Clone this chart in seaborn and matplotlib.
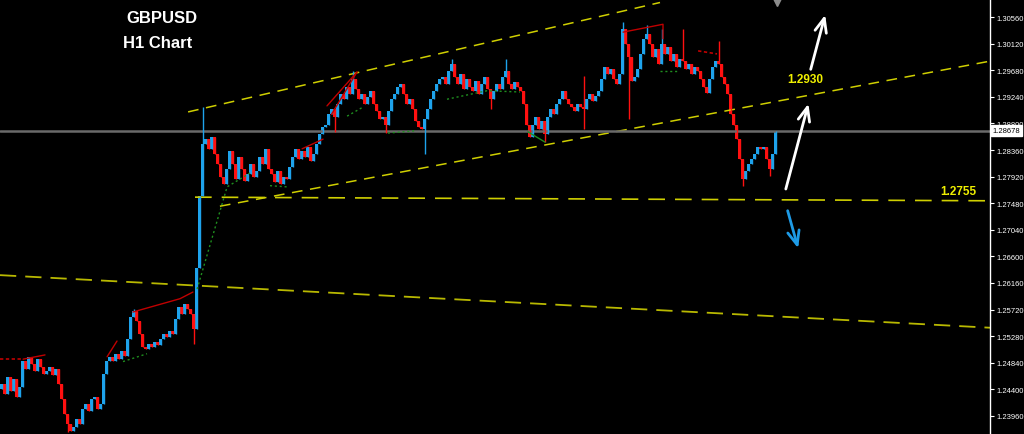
import matplotlib
matplotlib.use("Agg")
import matplotlib.pyplot as plt
import matplotlib.transforms as mtransforms
import seaborn as sns
import pandas as pd

# GBPUSD H1 closes, one per bar (open = previous close)
first_open = 1.2440
closes = [
    1.2449, 1.2432, 1.2461, 1.2437, 1.2457, 1.2427, 1.2444,
    1.2487, 1.2474, 1.2494, 1.2482, 1.2471, 1.2490, 1.2477, 1.2466,
    1.2471, 1.2477, 1.2464, 1.2474,
    1.2449, 1.2424, 1.2399, 1.2383, 1.2371,
    1.2378, 1.2391, 1.2383, 1.2408, 1.2416, 1.2404, 1.2424, 1.2427,
    1.2408, 1.2416,
    1.2466, 1.2487,
    1.2494, 1.2487, 1.2499, 1.2490, 1.2504, 1.2496,
    1.2524, 1.2560, 1.2570,
    1.2553, 1.2532, 1.2510,
    1.2507, 1.2515, 1.2510, 1.2519, 1.2514,
    1.2524, 1.2532, 1.2527, 1.2537, 1.2532,
    1.2557, 1.2576, 1.2565, 1.2581,
    1.2573, 1.2565,
    1.2540, 1.2640, 1.2760, 1.2846,
    1.2854, 1.2838, 1.2858, 1.2829,
    1.2813, 1.2791, 1.2780,
    1.2805, 1.2834, 1.2813, 1.2788, 1.2825,
    1.2805, 1.2785, 1.2796, 1.2813, 1.2791,
    1.2801, 1.2825, 1.2813, 1.2838, 1.2805,
    1.2796, 1.2783, 1.2801, 1.2780, 1.2791,
    1.2788, 1.2808, 1.2825, 1.2838, 1.2821,
    1.2834, 1.2825, 1.2841, 1.2818, 1.2830,
    1.2846, 1.2863, 1.2874,
    1.2878, 1.2896, 1.2904,
    1.2891, 1.2912, 1.2929, 1.2920, 1.2940, 1.2929, 1.2953,
    1.2937, 1.2920, 1.2929, 1.2912, 1.2924, 1.2934, 1.2912,
    1.2901, 1.2887, 1.2891,
    1.2878, 1.2901, 1.2920,
    1.2929, 1.2940, 1.2945,
    1.2929, 1.2912, 1.2920, 1.2904, 1.2884,
    1.2874, 1.2871,
    1.2887, 1.2904, 1.2920, 1.2934, 1.2945, 1.2953,
    1.2957, 1.2945, 1.2967, 1.2978, 1.2957,
    1.2945, 1.2962, 1.2937, 1.2953, 1.2940,
    1.2934, 1.2950, 1.2929, 1.2945, 1.2957, 1.2937, 1.2920,
    1.2934, 1.2945, 1.2937, 1.2957, 1.2967,
    1.2945, 1.2937, 1.2949, 1.2940, 1.2934,
    1.2912, 1.2878, 1.2857,
    1.2878, 1.2891, 1.2871, 1.2884, 1.2862,
    1.2891, 1.2904, 1.2896, 1.2912, 1.2920,
    1.2934, 1.2920, 1.2912,
    1.2907, 1.2901, 1.2912,
    1.2907, 1.2904,
    1.2920, 1.2929, 1.2917, 1.2925, 1.2934,
    1.2953, 1.2973, 1.2962,
    1.2970, 1.2953, 1.2945,
    1.2962, 1.3036,
    1.3011, 1.2990,
    1.2950, 1.2957, 1.2970,
    1.2995, 1.3020, 1.3028,
    1.3011, 1.2990, 1.3003, 1.2978,
    1.3011,
    1.2995, 1.3006, 1.2983, 1.2995, 1.2973,
    1.2987, 1.2983,
    1.2970, 1.2978, 1.2962, 1.2973, 1.2967,
    1.2953, 1.2940, 1.2931,
    1.2953, 1.2973, 1.2983,
    1.2978, 1.2957, 1.2945,
    1.2929, 1.2896, 1.2878,
    1.2854, 1.2821, 1.2788,
    1.2801, 1.2813, 1.2821,
    1.2830, 1.2841, 1.2838,
    1.2841, 1.2821, 1.2805,
    1.2830, 1.28678,
]

# long wicks (bar index -> price)
hi_idx = [44, 67, 117, 150, 168, 194, 207, 215, 220, 227, 239]
hi_val = [1.2573, 1.2907, 1.2966, 1.2987, 1.2987, 1.2958, 1.3048, 1.3042, 1.3036, 1.3036, 1.3016]
lo_idx = [22, 64, 111, 128, 141, 163, 181, 194, 209, 247, 256]
lo_val = [1.2370, 1.2515, 1.2866, 1.2864, 1.2829, 1.2904, 1.2849, 1.2871, 1.2887, 1.2777, 1.2793]

yticks = [1.23960, 1.24400, 1.24840, 1.25280, 1.25720, 1.26160, 1.26600, 1.27040,
          1.27480, 1.27920, 1.28360, 1.28800, 1.29240, 1.29680, 1.30120, 1.30560]
last_price = 1.28678

# drawn trend lines: (bars, prices)
upper_channel = ([62.2, 219.5], [1.2899, 1.3080])
lower_channel = ([72.8, 329.5], [1.2743, 1.2983])
support_line = ([64.5, 329.5], [1.2758, 1.2752])
long_trend = ([-0.5, 329.5], [1.2629, 1.2542])

# zigzag / indicator segments
red_lines = [
    ([7.2, 14.5], [1.2490, 1.2497]),
    ([35.2, 38.5], [1.2494, 1.2520]),
    ([43.8, 59.5, 63.8], [1.2568, 1.2590, 1.2601]),
    ([100.2, 107.2], [1.2838, 1.2854]),
    ([108.5, 118.5], [1.2909, 1.2965]),
    ([110.0, 118.5], [1.2895, 1.2965]),
    ([207.2, 220.5, 220.5], [1.3031, 1.3044, 1.3020]),
]
red_dotted = [
    ([-0.5, 7.2], [1.2490, 1.2490]),
    ([232.2, 238.5], [1.3000, 1.2995]),
]
green_dotted = [
    ([40.5, 48.5], [1.2486, 1.2499]),
    ([65.2, 75.2, 83.5], [1.2606, 1.2775, 1.2800]),
    ([89.5, 95.2], [1.2777, 1.2775]),
    ([115.2, 120.5], [1.2892, 1.2907]),
    ([128.8, 138.5], [1.2864, 1.2868]),
    ([148.5, 161.8, 172.8], [1.2920, 1.2934, 1.2932]),
    ([219.5, 225.2], [1.2967, 1.2967]),
]
green_solid = [([175.5, 181.2], [1.2866, 1.2849])]

# arrows: (tail, head)
up_arrows = [((261.2, 1.2767), (269.2, 1.2917)), ((269.5, 1.2965), (274.8, 1.3064))]
down_arrow = ((261.8, 1.2740), (265.8, 1.2669))

sns.set_style("dark", {"axes.facecolor": "black", "figure.facecolor": "black"})
plt.rcParams['font.family'] = ['Liberation Sans', 'DejaVu Sans']

df = pd.DataFrame({"bar": range(len(closes)), "close": closes})
df["open"] = df["close"].shift(1).fillna(first_open)
df["high"] = df[["open", "close"]].max(axis=1)
df["low"] = df[["open", "close"]].min(axis=1)
df.loc[hi_idx, "high"] = hi_val
df.loc[lo_idx, "low"] = lo_val
up_col, dn_col = "#1ea3ec", "#ff1010"
cols = [up_col if c >= o else dn_col for o, c in zip(df["open"], df["close"])]

fig = plt.figure(figsize=(10.24, 4.35), dpi=100)
ax = fig.add_axes([0, 0, 990 / 1024, 1])
ax.set_facecolor("black")

ylo, yhi = 1.23662, 1.30858
ax.set_xlim(-0.5, 329.5)
ax.set_ylim(ylo, yhi)

# trend lines
yel = "#cfcf00"
ax.plot(*upper_channel, color=yel, lw=1.1, linestyle=(0, (7, 5)))
ax.plot(*lower_channel, color=yel, lw=1.1, linestyle=(0, (7, 5)))
ax.plot(*support_line, color=yel, lw=1.2, linestyle=(0, (10, 6)))
ax.plot(*long_trend, color="#b8b800", lw=1.3, linestyle=(0, (9, 5)))

# current price line
ax.axhline(last_price, color="#6a6a6a", lw=1.8)

# candles
ax.vlines(df["bar"], df["low"], df["high"], colors=cols, lw=1)
ax.bar(df["bar"], df["close"] - df["open"], bottom=df["open"], width=0.72,
       color=cols, linewidth=0)

# indicator lines
for xs, ys in red_lines:
    sns.lineplot(x=xs, y=ys, ax=ax, color="#c00000", lw=1, sort=False, estimator=None)
for xs, ys in red_dotted:
    sns.lineplot(x=xs, y=ys, ax=ax, color="#c00000", lw=1.2, linestyle=(0, (2, 1.5)),
                 sort=False, estimator=None)
for xs, ys in green_dotted:
    sns.lineplot(x=xs, y=ys, ax=ax, color="#1f8f1f", lw=1, linestyle=(0, (1.5, 2)),
                 sort=False, estimator=None)
for xs, ys in green_solid:
    sns.lineplot(x=xs, y=ys, ax=ax, color="#1f8f1f", lw=1, sort=False, estimator=None)

# arrows
head = "->,head_length=1.0,head_width=0.42"
for tail, tip in up_arrows:
    ax.annotate("", xy=tip, xytext=tail,
                arrowprops=dict(arrowstyle=head, color="white", lw=2))
ax.annotate("", xy=down_arrow[1], xytext=down_arrow[0],
            arrowprops=dict(arrowstyle=head, color="#1e9be6", lw=2))

# labels
ax.text(0.1636, 0.958, "GBPUSD", transform=ax.transAxes, color="white",
        fontsize=12, fontweight="bold", ha="center", va="center")
ax.text(0.1596, 0.901, "H1 Chart", transform=ax.transAxes, color="white",
        fontsize=12, fontweight="bold", ha="center", va="center")
ax.text(267.8, 1.2953, "1.2930", color="#f0f000", fontsize=8.5, fontweight="bold",
        ha="center", va="center")
ax.text(318.8, 1.2768, "1.2755", color="#f0f000", fontsize=8.5, fontweight="bold",
        ha="center", va="center")

# shift marker at top
trans = mtransforms.blended_transform_factory(ax.transData, ax.transAxes)
ax.plot([258.5], [0.993], marker="v", color="#8c8c8c", markersize=6,
        transform=trans, clip_on=False)

# right price scale
ax.yaxis.tick_right()
ax.set_yticks(yticks)
ax.set_yticklabels([f"{t:.5f}" for t in yticks])
ax.tick_params(axis="y", colors="white", labelsize=5.5, length=3, width=0.8,
               direction="out", pad=2, right=True, left=False)
ax.set_xticks([])
ax.grid(False)
for side in ["left", "bottom"]:
    ax.spines[side].set_visible(False)
ax.spines["right"].set_color("white")
ax.spines["right"].set_linewidth(1)
ax.spines["top"].set_color("#b0b0b0")
ax.spines["top"].set_linewidth(1.2)

price_trans = mtransforms.blended_transform_factory(ax.transAxes, ax.transData)
ax.text(1.0025, last_price, f"{last_price:.5f}", transform=price_trans,
        color="black", fontsize=5.5, ha="left", va="center",
        bbox=dict(boxstyle="square,pad=0.25", facecolor="white", edgecolor="white"))

fig.savefig("out.png", dpi=100, facecolor="black")
